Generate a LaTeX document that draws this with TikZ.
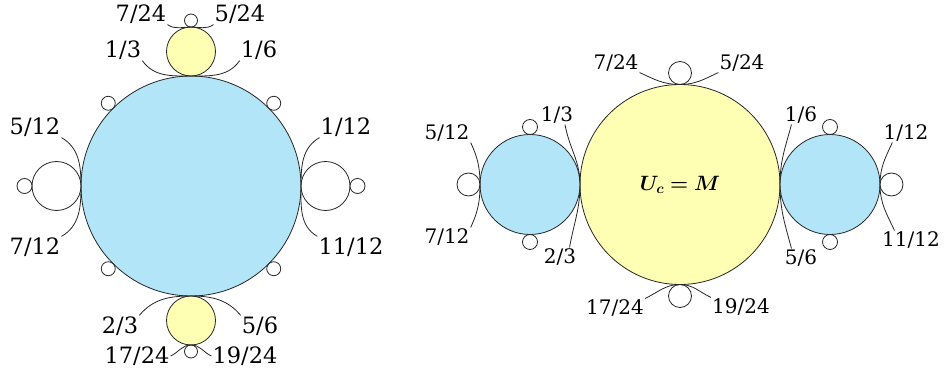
\documentclass[tikz,border=0pt]{standalone}
\usepackage{fontspec}
\setmainfont{DejaVu Serif}
\usepackage{bm}
\usepackage{xcolor}
\usepackage{tikz}
\usetikzlibrary{positioning}

\definecolor{discblue}{RGB}{178,229,248}
\definecolor{discyellow}{RGB}{255,255,180}

\begin{document}
\begin{tikzpicture}[x=1pt, y=1pt,
    disc/.style={circle, draw=black!85, line width=0.8pt, inner sep=0pt, outer sep=0pt},
    bulb/.style={disc, fill=white},
    lab/.style={inner sep=1pt, font=\fontsize{22.5}{26}\selectfont},
    labr/.style={inner sep=1pt, font=\fontsize{20}{24}\selectfont},
    thread/.style={line width=0.8pt, black!85}]
    \useasboundingbox (0,0) rectangle (946,373);

    % Left picture: main disc with its buds
    \node[disc, fill=discblue, minimum size=220pt] (bigL) at (191,187) {};
    \node[disc, fill=discyellow, minimum size=49pt, above=0pt of bigL] (yelT) {};
    \node[bulb, minimum size=13pt, above=0pt of yelT] (budT) {};
    \node[disc, fill=discyellow, minimum size=49pt, below=0pt of bigL] (yelB) {};
    \node[bulb, minimum size=13pt, below=0pt of yelB] (budB) {};
    \node[bulb, minimum size=49pt, left=0pt of bigL] (wL) {};
    \node[bulb, minimum size=15pt, left=0pt of wL] (budL) {};
    \node[bulb, minimum size=49pt, right=0pt of bigL] (wR) {};
    \node[bulb, minimum size=15pt, right=0pt of wR] (budR) {};
    \foreach \a/\b in {45/225, 135/315, 225/45, 315/135}
        \node[bulb, minimum size=14pt, anchor=\b] (diag\a) at (bigL.\a) {};

    % Left picture: labels
    \node[lab] (l724) at (141,359) {7/24};
    \node[lab] (l524) at (240,359) {5/24};
    \node[lab] (l13) at (123,323) {1/3};
    \node[lab] (l16) at (259,323) {1/6};
    \node[lab] (l512) at (35,246) {5/12};
    \node[lab] (l112) at (346,246) {1/12};
    \node[lab] (l712) at (35,126) {7/12};
    \node[lab] (l1112) at (351,126) {11/12};
    \node[lab] (l23) at (120,47) {2/3};
    \node[lab] (l56) at (260,47) {5/6};
    \node[lab] (l1724) at (137,17) {17/24};
    \node[lab] (l1924) at (245,17) {19/24};

    % Left picture: threads through the contact points
    \draw[thread] (l724.south east) to[out=-35,in=180] (budT.south) to[out=0,in=-145] (l524.south west);
    \draw[thread] (l13.south east) to[out=-55,in=180] (yelT.south) to[out=0,in=-125] (l16.south west);
    \draw[thread] (l512.south east) to[out=-30,in=90] (bigL.west) to[out=-90,in=30] (l712.north east);
    \draw[thread] (l112.south west) to[out=-150,in=90] (bigL.east) to[out=-90,in=150] (l1112.north west);
    \draw[thread] (l23.north east) to[out=50,in=180] (yelB.north) to[out=0,in=130] (l56.north west);
    \draw[thread] (l1724.east) to[out=25,in=180] (budB.north) to[out=0,in=155] (l1924.west);

    % Right picture: main disc with its buds
    \node[disc, fill=discyellow, minimum size=200pt, font=\fontsize{22}{26}\selectfont] (bigR) at (680,188.5) {$\bm{U_c = M}$};
    \node[disc, fill=discblue, minimum size=100pt, left=0pt of bigR] (blueL) {};
    \node[disc, fill=discblue, minimum size=100pt, right=0pt of bigR] (blueR) {};
    \node[bulb, minimum size=23pt, above=0pt of bigR] (budRT) {};
    \node[bulb, minimum size=23pt, below=0pt of bigR] (budRB) {};
    \node[bulb, minimum size=23pt, left=0pt of blueL] (wBL) {};
    \node[bulb, minimum size=23pt, right=0pt of blueR] (wBR) {};
    \node[bulb, minimum size=15pt, above=0pt of blueL] (budLT) {};
    \node[bulb, minimum size=15pt, below=0pt of blueL] (budLB) {};
    \node[bulb, minimum size=15pt, above=0pt of blueR] (budRRT) {};
    \node[bulb, minimum size=15pt, below=0pt of blueR] (budRRB) {};

    % Right picture: labels
    \node[labr] (r724) at (616,310) {7/24};
    \node[labr] (r524) at (742,310) {5/24};
    \node[labr] (r13) at (557,258) {1/3};
    \node[labr] (r16) at (801,258) {1/6};
    \node[labr] (r512) at (447,240) {5/12};
    \node[labr] (r112) at (906,240) {1/12};
    \node[labr] (r712) at (447,136) {7/12};
    \node[labr] (r1112) at (911,133) {11/12};
    \node[labr] (r23) at (560,116) {2/3};
    \node[labr] (r56) at (801,115) {5/6};
    \node[labr] (r1724) at (615,65) {17/24};
    \node[labr] (r1924) at (741,66) {19/24};

    % Right picture: threads
    \draw[thread] (r724.south east) to[out=-25,in=180] (bigR.north) to[out=0,in=-155] (r524.south west);
    \draw[thread] (r1724.north east) to[out=25,in=180] (bigR.south) to[out=0,in=155] (r1924.north west);
    \draw[thread] (r13.-50) to[out=-80,in=90] (bigR.west) to[out=-90,in=80] (r23.45);
    \draw[thread] (r16.-135) to[out=-105,in=90] (bigR.east) to[out=-90,in=105] (r56.135);
    \draw[thread] (r512.south east) to[out=-65,in=90] (blueL.west) to[out=-90,in=65] (r712.north east);
    \draw[thread] (r112.-145) to[out=-115,in=90] (blueR.east) to[out=-90,in=115] (r1112.150);
\end{tikzpicture}
\end{document}
